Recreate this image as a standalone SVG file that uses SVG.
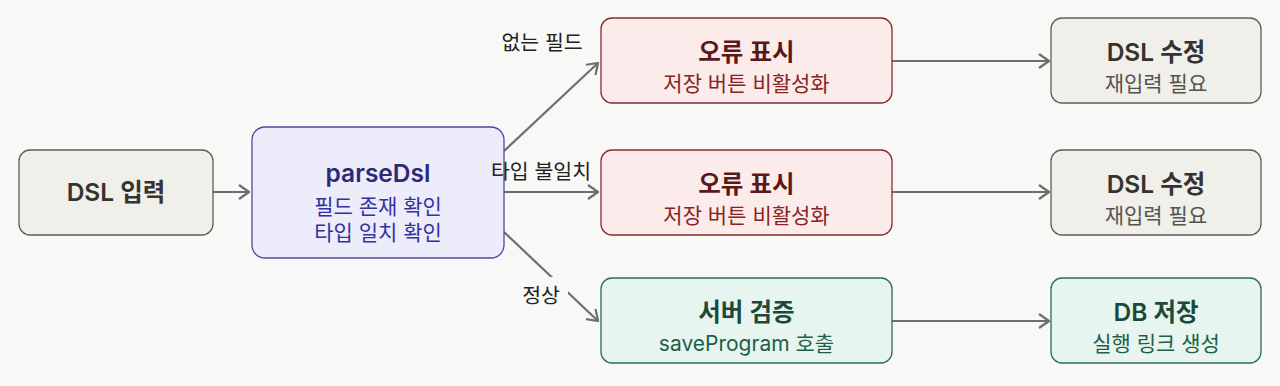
<svg xmlns="http://www.w3.org/2000/svg" width="1280" height="386" viewBox="0 0 1280 386">
<style>
text{font-family:"Inter","Noto Sans CJK KR","Noto Sans",sans-serif;text-anchor:middle}
.t{font-size:24.5px;font-weight:600}
.s{font-size:21px;font-weight:400}
.lbl{font-size:20.5px;fill:#222}
.edge{fill:none;stroke:#6e6e6b;stroke-width:2.2}
.gray rect{fill:#f0efea;stroke:#5f5f5a;stroke-width:1.3}
.gray .t{fill:#333330}.gray .s{fill:#555550}
.blue rect{fill:#ececfb;stroke:#4d4aa3;stroke-width:1.3}
.blue .t{fill:#2c2a78}.blue .s{fill:#3532a0}
.red rect{fill:#fbebeb;stroke:#8b2b2b;stroke-width:1.3}
.red .t{fill:#5a1818}.red .s{fill:#8a2222}
.green rect{fill:#e6f5ef;stroke:#2f6b56;stroke-width:1.3}
.green .t{fill:#1b4a3a}.green .s{fill:#1f5e47}
</style>
<defs>
<marker id="arr" viewBox="0 0 12 16" refX="11" refY="8" markerWidth="12" markerHeight="16" markerUnits="userSpaceOnUse" orient="auto">
<path d="M1,1 L11,8 L1,15" fill="none" stroke="#6e6e6b" stroke-width="2.2"/>
</marker>
</defs>
<rect width="1280" height="386" fill="#f8f8f7"/>
<g id="connectors">
<line class="edge" x1="213" y1="192" x2="249" y2="192" marker-end="url(#arr)"/>
<line class="edge" x1="504" y1="151" x2="598" y2="63" marker-end="url(#arr)"/>
<line class="edge" x1="504" y1="192" x2="598" y2="192" marker-end="url(#arr)"/>
<line class="edge" x1="504" y1="232" x2="598" y2="321" marker-end="url(#arr)"/>
<line class="edge" x1="892" y1="61" x2="1049" y2="61" marker-end="url(#arr)"/>
<line class="edge" x1="892" y1="192" x2="1049" y2="192" marker-end="url(#arr)"/>
<line class="edge" x1="892" y1="321" x2="1049" y2="321" marker-end="url(#arr)"/>
</g>
<g id="n-input" class="gray">
<rect x="19" y="150" width="194" height="85" rx="11"/>
<text class="t" x="116" y="201">DSL 입력</text>
</g>
<g id="n-parse" class="blue">
<rect x="252" y="127" width="252" height="131" rx="13"/>
<text class="t" x="378" y="182">parseDsl</text>
<text class="s" x="378" y="214">필드 존재 확인</text>
<text class="s" x="378" y="240">타입 일치 확인</text>
</g>
<g id="n-err1" class="red">
<rect x="601" y="18" width="291" height="85" rx="11"/>
<text class="t" x="746.5" y="61">오류 표시</text>
<text class="s" x="746.5" y="91">저장 버튼 비활성화</text>
</g>
<g id="n-err2" class="red">
<rect x="601" y="150" width="291" height="85" rx="11"/>
<text class="t" x="746.5" y="193">오류 표시</text>
<text class="s" x="746.5" y="223">저장 버튼 비활성화</text>
</g>
<g id="n-server" class="green">
<rect x="601" y="278" width="291" height="85" rx="11"/>
<text class="t" x="746.5" y="321">서버 검증</text>
<text class="s" x="746.5" y="351">saveProgram 호출</text>
</g>
<g id="n-fix1" class="gray">
<rect x="1051" y="18" width="210" height="85" rx="11"/>
<text class="t" x="1156" y="61">DSL 수정</text>
<text class="s" x="1156" y="91">재입력 필요</text>
</g>
<g id="n-fix2" class="gray">
<rect x="1051" y="150" width="210" height="85" rx="11"/>
<text class="t" x="1156" y="193">DSL 수정</text>
<text class="s" x="1156" y="223">재입력 필요</text>
</g>
<g id="n-db" class="green">
<rect x="1051" y="278" width="210" height="85" rx="11"/>
<text class="t" x="1156" y="321">DB 저장</text>
<text class="s" x="1156" y="351">실행 링크 생성</text>
</g>
<g id="edge-labels">
<text class="lbl" x="542" y="50">없는 필드</text>
<text class="lbl" x="541" y="179">타입 불일치</text>
<rect x="516" y="277" width="52" height="36" fill="#f8f8f7"/>
<text class="lbl" x="541" y="303">정상</text>
</g>
</svg>
